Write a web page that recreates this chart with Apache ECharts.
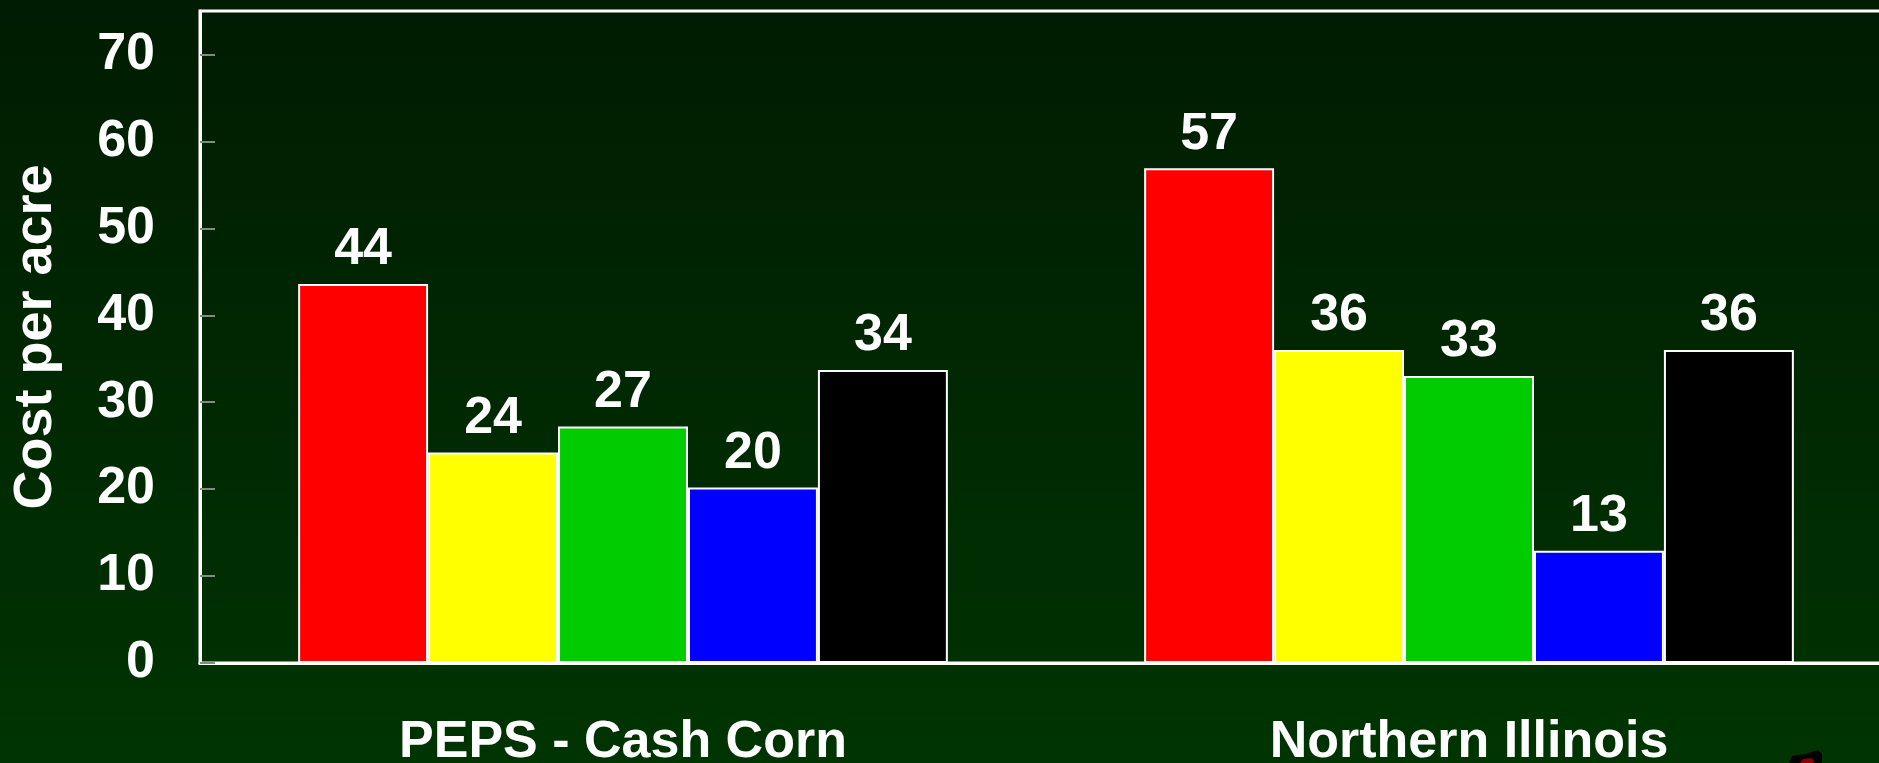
<!DOCTYPE html>
<html>
<head>
<meta charset="utf-8">
<script src="https://cdn.jsdelivr.net/npm/echarts@6/dist/echarts.min.js"></script>
<style>
html,body{margin:0;padding:0;width:1879px;height:763px;overflow:hidden;}
#chart{width:1879px;height:763px;}
</style>
</head>
<body>
<div id="chart"></div>
<script>
const categories = ['PEPS - Cash Corn', 'Northern Illinois'];
const seriesNames = ['Series 1', 'Series 2', 'Series 3', 'Series 4', 'Series 5'];
const seriesColors = ['#ff0000', '#ffff00', '#00cc00', '#0000ff', '#000000'];
const s1 = [43.6, 56.9];
const s2 = [24.2, 36.0];
const s3 = [27.2, 33.0];
const s4 = [20.2, 12.9];
const s5 = [33.7, 36.0];
const seriesValues = [s1, s2, s3, s4, s5];
const yAxisTitle = 'Cost per acre';

const FONT = '"Liberation Sans", Arial, sans-serif';
const chart = echarts.init(document.getElementById('chart'));

const series = seriesValues.map((vals, i) => ({
  name: seriesNames[i],
  type: 'bar',
  data: vals,
  barGap: '0%',
  barCategoryGap: '23.2%',
  itemStyle: { color: seriesColors[i], borderColor: '#ffffff', borderWidth: 2 },
  label: {
    show: true,
    position: 'top',
    distance: 8,
    color: '#ffffff',
    fontFamily: FONT,
    fontWeight: 'bold',
    fontSize: 52,
    formatter: p => String(Math.round(p.value))
  }
}));

chart.setOption({
  animation: false,
  backgroundColor: {
    type: 'linear', x: 0, y: 0, x2: 0, y2: 1,
    colorStops: [{ offset: 0, color: '#001c02' }, { offset: 1, color: '#003402' }]
  },
  grid: {
    left: 200, top: 11, right: -13, bottom: 100,
    outerBoundsMode: 'none',
    containLabel: false,
    show: true, borderColor: '#ffffff', borderWidth: 3, backgroundColor: 'transparent'
  },
  xAxis: {
    type: 'category',
    data: categories,
    axisLine: { show: true, lineStyle: { color: '#ffffff', width: 3 } },
    axisTick: { show: false },
    axisLabel: {
      color: '#ffffff', fontFamily: FONT, fontWeight: 'bold', fontSize: 52, margin: 54
    }
  },
  yAxis: {
    type: 'value',
    min: 0, max: 75, interval: 10,
    name: yAxisTitle,
    nameLocation: 'middle',
    nameRotate: 90,
    nameGap: 137,
    nameTextStyle: { color: '#ffffff', fontFamily: FONT, fontWeight: 'bold', fontSize: 54 },
    splitLine: { show: false },
    axisLine: { show: true, lineStyle: { color: '#ffffff', width: 3 } },
    axisTick: { show: true, inside: true, length: 15, lineStyle: { color: '#7f8f7f', width: 2 } },
    axisLabel: {
      color: '#ffffff', fontFamily: FONT, fontWeight: 'bold', fontSize: 52, margin: 45,
      padding: [6, 0, 0, 0],
      showMaxLabel: false
    }
  },
  graphic: [
    { type: 'polygon', shape: { points: [[1789, 763], [1792, 756], [1806, 754], [1818, 750], [1822, 754], [1822, 763]] },
      style: { fill: '#000000' } },
    { type: 'polygon', shape: { points: [[1800, 763], [1803, 759], [1812, 758], [1814, 763]] },
      style: { fill: '#8a0000' } }
  ],
  series: series
});
</script>
</body>
</html>
